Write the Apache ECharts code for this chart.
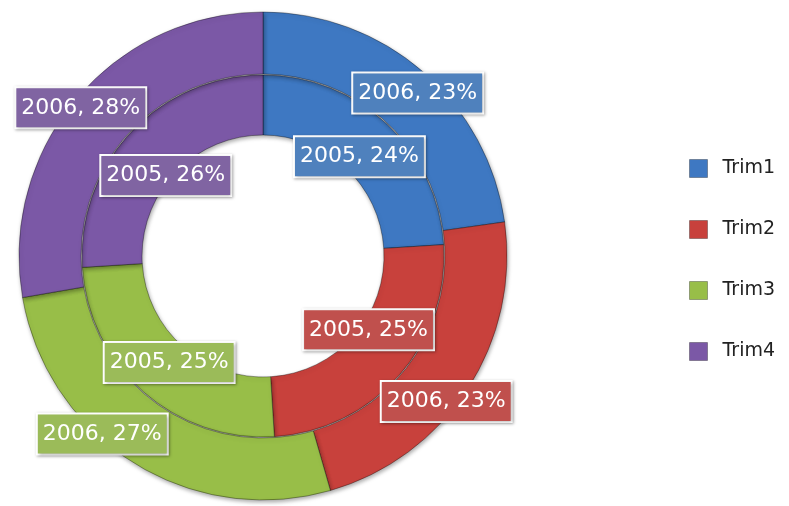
<!DOCTYPE html>
<html lang="en">
<head>
    <meta charset="UTF-8">
    <title>Doughnut 2005 / 2006</title>
    <script src="https://cdn.jsdelivr.net/npm/echarts@6/dist/echarts.min.js"></script>
    <style>
        html, body { margin: 0; padding: 0; background: #fff; }
        #main { width: 789px; height: 506px; }
    </style>
</head>
<body>
    <div id="main"></div>
    <script>
        // data
        const quarters = ["Trim1", "Trim2", "Trim3", "Trim4"];
        const years = ["2005", "2006"];
        const values2005 = [24, 25, 25, 26];
        const values2006 = [23, 23, 27, 28];

        const ringColors = ["#3E78C2", "#C8413C", "#98BE48", "#7B58A6"];
        const boxColors = ["#4F81BD", "#C0504D", "#9BBB59", "#8064A2"];

        // nudges (from the default inside spot) so the boxes sit where Excel put them
        const nudges = {
            0: [[-9, 13], [-10, -28], [8, -9], [15, 25]],
            1: [[13, 0], [2, 28], [-46, -5], [-17, -9]]
        };

        function makeData(values) {
            return values.map((v, i) => ({
                name: quarters[i],
                value: v,
                itemStyle: { color: ringColors[i] },
                label: { backgroundColor: boxColors[i] }
            }));
        }

        const labelStyle = {
            show: true,
            position: "inside",
            formatter: p => p.seriesName + ", " + p.value + "%",
            color: "#fff",
            fontFamily: "DejaVu Sans",
            fontSize: 22,
            borderColor: "#fff",
            borderWidth: 2,
            padding: [9, 5, 8, 5],
            shadowColor: "rgba(0,0,0,0.35)",
            shadowBlur: 3,
            shadowOffsetX: 1,
            shadowOffsetY: 1
        };

        const ringStyle = {
            borderColor: "rgba(0,0,0,0.35)",
            borderWidth: 1,
            shadowColor: "rgba(0,0,0,0.35)",
            shadowBlur: 4,
            shadowOffsetX: 1,
            shadowOffsetY: 2
        };

        function moveLabel(p) {
            const n = nudges[p.seriesIndex][p.dataIndex];
            const r = p.labelRect;
            return {
                x: r.x + r.width / 2 + n[0],
                y: r.y + r.height / 2 + n[1],
                hideOverlap: false,
                moveOverlap: null
            };
        }

        function ring(name, radius, values) {
            return {
                name: name,
                type: "pie",
                center: [263, 256],
                radius: radius,
                startAngle: 90,
                clockwise: true,
                silent: true,
                avoidLabelOverlap: false,
                itemStyle: ringStyle,
                label: labelStyle,
                labelLine: { show: false },
                labelLayout: moveLabel,
                data: makeData(values)
            };
        }

        const chart = echarts.init(document.getElementById("main"));
        chart.setOption({
            animation: false,
            legend: {
                orient: "vertical",
                left: 689,
                top: 159,
                padding: 0,
                itemWidth: 18,
                itemHeight: 18,
                itemGap: 42,
                icon: "rect",
                data: quarters,
                itemStyle: { borderColor: "rgba(0,0,0,0.3)", borderWidth: 1 },
                textStyle: {
                    fontFamily: "DejaVu Sans",
                    fontSize: 19,
                    color: "#222",
                    padding: [0, 0, 0, 10]
                }
            },
            series: [
                ring(years[0], [121, 181], values2005),
                ring(years[1], [182, 244], values2006)
            ]
        });
    </script>
</body>
</html>
